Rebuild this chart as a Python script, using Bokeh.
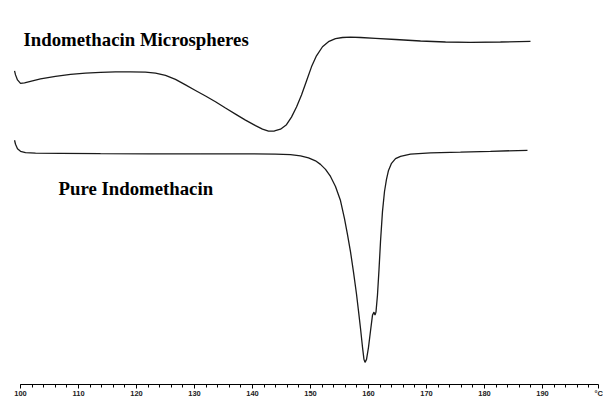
from bokeh.plotting import figure
from bokeh.models import Range1d, FixedTicker, Label
from bokeh.embed import file_html
from bokeh.resources import INLINE

# ---- data (temperature in °C, heat flow in arbitrary units) ----
temp_micro = [98.97, 99.14, 99.48, 100.00, 100.69, 101.72, 103.45, 106.03, 108.62, 111.21,
              113.79, 116.38, 118.97, 121.55, 123.28, 125.00, 126.72, 128.45, 130.17, 131.90,
              133.62, 135.34, 137.07, 138.79, 140.52, 141.72, 142.76, 143.79, 144.83, 145.86,
              146.72, 147.59, 148.45, 149.31, 150.17, 151.03, 152.07, 153.10, 154.31, 155.52,
              156.90, 158.62, 161.21, 164.66, 168.97, 173.28, 177.59, 182.76, 187.93]
hf_micro = [31.30, 30.90, 30.40, 30.05, 30.10, 30.25, 30.50, 30.75, 30.95, 31.07,
            31.15, 31.20, 31.20, 31.17, 31.07, 30.85, 30.45, 29.90, 29.35, 28.80,
            28.23, 27.60, 27.00, 26.40, 25.85, 25.50, 25.30, 25.32, 25.50, 25.95,
            26.70, 27.70, 28.90, 30.30, 31.70, 32.80, 33.70, 34.20, 34.50, 34.62,
            34.65, 34.62, 34.54, 34.42, 34.27, 34.17, 34.14, 34.17, 34.23]

temp_pure = [98.97, 99.14, 99.48, 100.00, 100.86, 102.59, 106.90, 113.79, 122.41, 131.03,
             139.66, 143.97, 146.55, 148.28, 149.66, 150.86, 151.72, 152.59, 153.45, 154.31,
             155.17, 155.86, 156.38, 156.90, 157.41, 157.93, 158.28, 158.62, 158.97, 159.22,
             159.40, 159.66, 160.00, 160.34, 160.69, 160.95, 161.12, 161.29, 161.55, 161.81,
             162.07, 162.41, 162.76, 163.10, 163.45, 163.97, 164.66, 165.52, 167.24, 170.69,
             175.86, 181.03, 187.41]
hf_pure = [24.40, 24.00, 23.55, 23.30, 23.17, 23.12, 23.10, 23.07, 23.05, 23.04,
           23.04, 23.02, 22.97, 22.85, 22.65, 22.35, 22.00, 21.50, 20.80, 19.80,
           18.40, 16.60, 15.00, 13.30, 11.30, 9.10, 7.40, 5.70, 3.80, 2.60,
           2.30, 2.60, 3.80, 5.40, 7.00, 7.30, 7.00, 7.30, 9.00, 11.50,
           14.30, 17.30, 19.30, 20.50, 21.40, 22.10, 22.57, 22.80, 23.02, 23.15,
           23.22, 23.30, 23.40]

major_ticks = [100, 110, 120, 130, 140, 150, 160, 170, 180, 190, 199.7]
tick_labels = {100: "100", 110: "110", 120: "120", 130: "130", 140: "140", 150: "150",
               160: "160", 170: "170", 180: "180", 190: "190", 199.7: "°C"}
minor_ticks = list(range(100, 200, 2))

label_micro = "Indomethacin Microspheres"
label_pure = "Pure Indomethacin"

X_START, X_END = 96.55, 200.52

p = figure(width=603, height=400, output_backend="svg", toolbar_location=None,
           x_range=Range1d(X_START, X_END), y_range=Range1d(0.1, 38.3),
           min_border_left=0, min_border_right=0, min_border_top=0, min_border_bottom=0)
p.outline_line_color = None
p.grid.visible = False
p.yaxis.visible = False
p.background_fill_color = "white"
p.border_fill_color = "white"

p.line(temp_micro, hf_micro, line_color="#1a1a1a", line_width=1.3)
p.line(temp_pure, hf_pure, line_color="#1a1a1a", line_width=1.3)

ax = p.xaxis[0]
ax.ticker = FixedTicker(ticks=major_ticks, minor_ticks=minor_ticks)
ax.major_label_overrides = tick_labels
ax.bounds = (100, 199.7)
ax.axis_line_color = "black"
ax.axis_line_width = 1
ax.major_tick_out = 4
ax.major_tick_in = 0
ax.minor_tick_out = 3
ax.minor_tick_in = 0
ax.major_tick_line_color = "black"
ax.minor_tick_line_color = "black"
ax.major_label_standoff = 0
ax.major_label_text_font = "Liberation Sans"
ax.major_label_text_font_size = "7.5px"
ax.major_label_text_font_style = "bold"
ax.major_label_text_color = "#222222"

for txt, x, y in [(label_micro, 100.52, 34.4), (label_pure, 106.55, 19.6)]:
    p.add_layout(Label(x=x, y=y, text=txt, text_font="Liberation Serif",
                       text_font_style="bold", text_font_size="18.8px",
                       text_baseline="alphabetic", text_align="left", text_color="black"))

open("out.html", "w").write(file_html(p, INLINE))
